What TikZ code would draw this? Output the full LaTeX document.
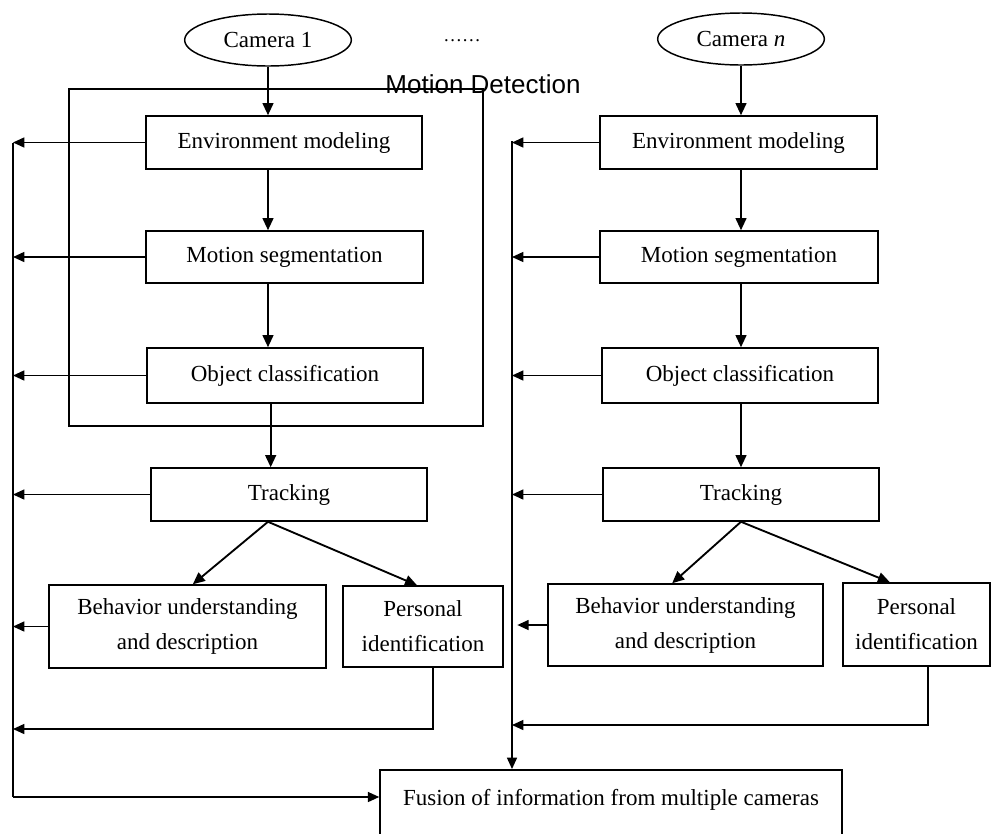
\documentclass[tikz,border=0pt]{standalone}
\usepackage{fontspec}
\setmainfont{Liberation Serif}
\newfontfamily\arialfont{Liberation Sans}
\usetikzlibrary{arrows.meta,shapes.geometric}
\begin{document}
\begin{tikzpicture}[x=0.75pt,y=-0.75pt,
  txt/.style={font=\fontsize{17.25}{26.25}\selectfont},
  box/.style={draw, line width=1.15pt, inner sep=0pt, align=center, txt},
  cam/.style={ellipse, draw, line width=1.1pt, minimum width=125pt, minimum height=39pt, inner sep=0pt, txt},
  arr/.style={line width=1.4pt, -{Triangle[length=9pt,width=8pt]}},
  fbarr/.style={line width=1.1pt, -{Triangle[length=8.5pt,width=7.5pt]}},
  fbline/.style={line width=1.1pt},
  mdframe/.style={draw, line width=2.1pt, inner sep=0pt}]
\clip (0,0) rectangle (992,833);
\fill[white] (0,0) rectangle (992,833);

% cameras
\node[cam] (cam1) at (268,40) {Camera 1};
\node[cam] (camn) at (741,39) {Camera \textit{n}};
\node[font=\fontsize{14}{16}\selectfont, inner sep=0pt] (dots) at (462,41) {……};

% motion detection frame
\node[mdframe, minimum width=310.5pt, minimum height=252.75pt] (md) at (276,257.5) {};
\node[font=\arialfont\fontsize{19.5}{22}\selectfont, anchor=base, inner sep=0pt] (mdlabel) at (483,93) {Motion Detection};

% left column
\node[box, minimum width=207pt, minimum height=39.75pt] (env1) at (284,142.5) {Environment modeling};
\node[box, minimum width=207.75pt, minimum height=39pt] (seg1) at (284.5,257) {Motion segmentation};
\node[box, minimum width=207pt, minimum height=41.25pt] (obj1) at (285,375.5) {Object classification};
\node[box, minimum width=207pt, minimum height=39.75pt] (trk1) at (289,494.5) {Tracking};
\node[box, minimum width=207.75pt, minimum height=62.25pt] (beh1) at (187.5,626.5) {Behavior understanding\\and description};
\node[box, minimum width=120pt, minimum height=60.75pt] (per1) at (423,626.5) {Personal\\identification};

% right column
\node[box, minimum width=207.75pt, minimum height=39.75pt] (envn) at (738.5,142.5) {Environment modeling};
\node[box, minimum width=208.5pt, minimum height=39pt] (segn) at (739,257) {Motion segmentation};
\node[box, minimum width=207pt, minimum height=41.25pt] (objn) at (740,375.5) {Object classification};
\node[box, minimum width=207pt, minimum height=39.75pt] (trkn) at (741,494.5) {Tracking};
\node[box, minimum width=206.25pt, minimum height=61.5pt] (behn) at (685.5,625) {Behavior understanding\\and description};
\node[box, minimum width=110.25pt, minimum height=62.25pt] (pern) at (916.5,624.5) {Personal\\identification};

% fusion
\node[draw, line width=1.15pt, inner sep=0pt, minimum width=346.5pt, minimum height=60pt, anchor=north] (fusion) at (611,769) {};
\node[txt, inner sep=0pt] (fusiontext) at (611,800) {Fusion of information from multiple cameras};

% feedback line coordinates
\coordinate (fbL) at (13,143);
\coordinate (fbLb) at (13,797);
\coordinate (retL) at (13,729);
\coordinate (fbR) at (512,141);
\coordinate (retR) at (512,725);

% vertical flow, left
\draw[arr] (cam1.south) -- (cam1 |- env1.north);
\draw[arr] (cam1 |- env1.south) -- (cam1 |- seg1.north);
\draw[arr] (cam1 |- seg1.south) -- (cam1 |- obj1.north);
\draw[arr] ([xshift=2pt]cam1 |- obj1.south) -- ([xshift=2pt]cam1 |- trk1.north);
\draw[arr] (cam1 |- trk1.south) -- ([xshift=4pt]beh1.north);
\draw[arr] (cam1 |- trk1.south) -- ([xshift=-4.5pt]per1.north);

% vertical flow, right
\draw[arr] (camn.south) -- (camn |- envn.north);
\draw[arr] (camn |- envn.south) -- (camn |- segn.north);
\draw[arr] (camn |- segn.south) -- (camn |- objn.north);
\draw[arr] (camn |- objn.south) -- (camn |- trkn.north);
\draw[arr] (camn |- trkn.south) -- ([xshift=-10pt]behn.north);
\draw[arr] (camn |- trkn.south) -- ([xshift=-20pt]pern.north);

% feedback, left
\draw[fbline] (fbL) -- (fbLb);
\draw[fbarr] (env1.west) -- (fbL |- env1.west);
\draw[fbarr] (seg1.west) -- (fbL |- seg1.west);
\draw[fbarr] (obj1.west) -- (fbL |- obj1.west);
\draw[fbarr] (trk1.west) -- (fbL |- trk1.west);
\draw[fbarr] (beh1.west) -- (fbL |- beh1.west);
\draw[fbarr] ([xshift=7.5pt]per1.south) |- (retL);
\draw[fbarr] (fbLb) -- (fusion.west |- fbLb);

% feedback, right
\draw[fbarr] (fbR) -- (fbR |- fusion.north);
\draw[fbarr] (envn.west) -- (fbR |- envn.west);
\draw[fbarr] (segn.west) -- (fbR |- segn.west);
\draw[fbarr] (objn.west) -- (fbR |- objn.west);
\draw[fbarr] (trkn.west) -- (fbR |- trkn.west);
\draw[fbarr] (behn.west) -- ([xshift=4pt]fbR |- behn.west);
\draw[fbarr] ([xshift=8.6pt]pern.south) |- (retR);
\end{tikzpicture}
\end{document}
